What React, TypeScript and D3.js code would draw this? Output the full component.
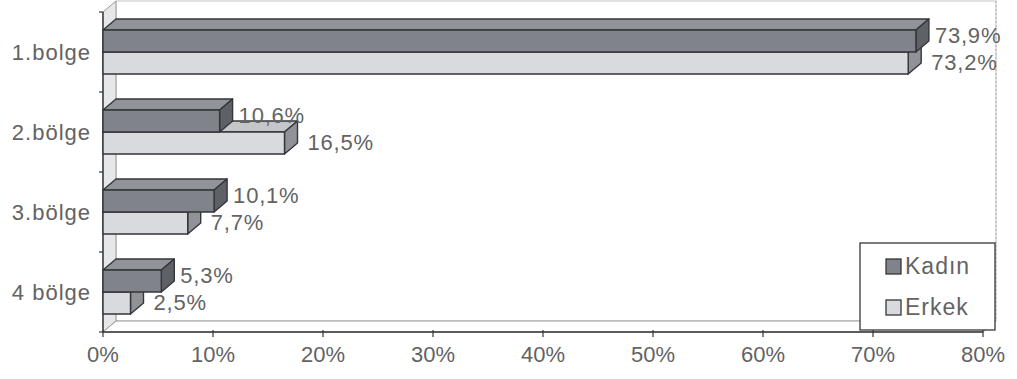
import React from "react";
import * as d3 from "d3";

const categories = ["1.bolge", "2.bölge", "3.bölge", "4 bölge"];
const kadin = [73.9, 10.6, 10.1, 5.3];
const erkek = [73.2, 16.5, 7.7, 2.5];
const xTicks = [0, 10, 20, 30, 40, 50, 60, 70, 80];
const seriesNames = ["Kadın", "Erkek"];

const W = 1017;
const H = 379;
const DX = 13;
const DY = -11;
const BAR_H = 22;
const FONT = "'Liberation Sans', Arial, sans-serif";
const TEXT = "#636363";
const EDGE = "#35363a";

const K_COL = { front: "#80838a", top: "#90939a", side: "#5e6167" };
const E_COL = { front: "#d8dadd", top: "#c4c6ca", side: "#909297" };

function fmt(v: number) {
  return v.toFixed(1).replace(".", ",") + "%";
}

function Bar3D({ x0, x1, y0, h, col }: { x0: number; x1: number; y0: number; h: number; col: any }) {
  const top = `M${x0},${y0} L${x0 + DX},${y0 + DY} L${x1 + DX},${y0 + DY} L${x1},${y0} Z`;
  const side = `M${x1},${y0} L${x1 + DX},${y0 + DY} L${x1 + DX},${y0 + h + DY} L${x1},${y0 + h} Z`;
  return (
    <g stroke={EDGE} strokeWidth={1.4} strokeLinejoin="round">
      <path d={top} fill={col.top} />
      <path d={side} fill={col.side} />
      <rect x={x0} y={y0} width={x1 - x0} height={h} fill={col.front} />
    </g>
  );
}

export default function App() {
  const x = d3.scaleLinear().domain([0, 80]).range([103, 983]);
  const y = d3.scaleBand<string>().domain(categories).range([12, 332]);
  const bw = y.bandwidth();
  const floorY = 332;
  const x0 = x(0);
  const xMax = x(80);

  return (
    <svg width={W} height={H} style={{ position: "absolute", left: 0, top: 0, background: "#fff" }} fontFamily={FONT}>
      {/* back wall */}
      <rect x={x0 + DX} y={12 + DY} width={xMax - x0} height={floorY - 12} fill="#fff" stroke="#c4c4c4" strokeWidth={1} />
      <line x1={xMax + DX} y1={12 + DY} x2={xMax + DX} y2={floorY + DY} stroke="#b0b0b0" strokeDasharray="2,2" />
      {/* left wall */}
      <path d={`M${x0},12 L${x0 + DX},${12 + DY} L${x0 + DX},${floorY + DY} L${x0},${floorY} Z`} fill="#e6e7e9" stroke="#9a9a9a" strokeWidth={1} />
      {/* floor */}
      <path d={`M${x0},${floorY} L${x0 + DX},${floorY + DY} L${xMax + DX},${floorY + DY} L${xMax},${floorY} Z`} fill="#fff" stroke="#9a9a9a" strokeWidth={1} />
      {/* axes */}
      <line x1={x0} y1={12} x2={x0} y2={floorY} stroke={EDGE} strokeWidth={1.4} />
      <line x1={x0} y1={floorY} x2={xMax} y2={floorY} stroke={EDGE} strokeWidth={1.4} />
      {categories.concat(["_end"]).map((c, i) => {
        const yy = 12 + i * bw;
        return <line key={"yt" + i} x1={x0 - 4} x2={x0} y1={yy} y2={yy} stroke={EDGE} strokeWidth={1.2} />;
      })}
      {xTicks.map((t) => (
        <g key={"xt" + t}>
          <line x1={x(t)} x2={x(t)} y1={floorY - 2} y2={floorY + 5} stroke={EDGE} strokeWidth={1.2} />
          <text x={x(t)} y={362} textAnchor="middle" fontSize={22} fill={TEXT}>
            {t + "%"}
          </text>
        </g>
      ))}
      {categories.map((c) => (
        <text key={"cl" + c} x={91} y={(y(c) as number) + bw / 2 + 8} textAnchor="end" fontSize={22} fill={TEXT} letterSpacing={1}>
          {c}
        </text>
      ))}
      {/* bars */}
      {categories.map((c, i) => {
        const mid = (y(c) as number) + bw / 2;
        const yK = mid - BAR_H;
        const yE = mid;
        return (
          <g key={"bars" + c}>
            <Bar3D x0={x0} x1={x(erkek[i])} y0={yE} h={BAR_H} col={E_COL} />
            <Bar3D x0={x0} x1={x(kadin[i])} y0={yK} h={BAR_H} col={K_COL} />
          </g>
        );
      })}
      {/* value labels */}
      {categories.map((c, i) => {
        const mid = (y(c) as number) + bw / 2;
        return (
          <g key={"vl" + c} fontSize={22} fill={TEXT} letterSpacing={0.8}>
            <text x={x(kadin[i]) + DX + 6} y={mid - BAR_H / 2 - 6 + 8}>{fmt(kadin[i])}</text>
            <text x={x(erkek[i]) + DX + 10} y={mid + BAR_H / 2 - 1 + 8}>{fmt(erkek[i])}</text>
          </g>
        );
      })}
      {/* legend */}
      <g>
        <rect x={860} y={243} width={135} height={87} fill="#fff" stroke={EDGE} strokeWidth={1.3} />
        {seriesNames.map((s, i) => {
          const cy = 266 + i * 41;
          const col = i === 0 ? K_COL : E_COL;
          return (
            <g key={"lg" + s}>
              <rect x={886} y={cy - 7} width={15} height={15} fill={col.front} stroke={EDGE} strokeWidth={1.3} />
              <text x={905} y={cy + 8} fontSize={23} fill={TEXT} letterSpacing={1}>{s}</text>
            </g>
          );
        })}
      </g>
    </svg>
  );
}
